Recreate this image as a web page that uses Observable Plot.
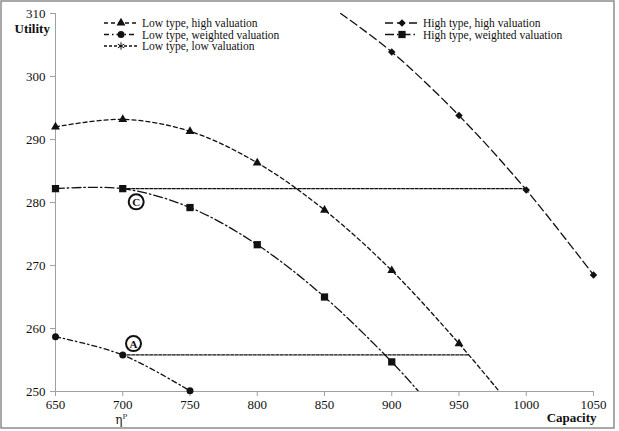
<!DOCTYPE html>
<html>
<head>
<meta charset="utf-8">
<script src="https://cdn.jsdelivr.net/npm/d3@7"></script>
<script src="https://cdn.jsdelivr.net/npm/@observablehq/plot@0.6"></script>
<style>
  html, body { margin: 0; padding: 0; background: #fff; }
  #chart { position: relative; width: 619px; height: 431px; }
  #chart svg { display: block; }
</style>
</head>
<body>
<div id="chart"></div>
<script>
// Marker positions (capacity → utility)
const lowHighCap = [650, 700, 750, 800, 850, 900, 950];
const lowHighUtil = [292.0, 293.2, 291.3, 286.3, 278.8, 269.2, 257.6];

const lowWeightedCap = [650, 700, 750];
const lowWeightedUtil = [258.7, 255.8, 250.1];

const highHighCap = [900, 950, 1000, 1050];
const highHighUtil = [303.9, 293.8, 282.0, 268.5];

const highWeightedCap = [650, 700, 750, 800, 850, 900];
const highWeightedUtil = [282.2, 282.2, 279.2, 273.3, 265.0, 254.7];

// Where each fitted curve meets the plot frame beyond its last marker
const lowHighEnd = {cap: 980, util: 250};
const highHighStart = {cap: 862, util: 310};
const highWeightedEnd = {cap: 920, util: 250};

// Horizontal reference segments from points C and A
const refCCap = [700, 1000];
const refCUtil = [282.2, 282.2];
const refACap = [700, 957];
const refAUtil = [255.8, 255.8];

// Circled point labels
const pointLabels = ["A", "C"];
const pointLabelCap = [708, 710];
const pointLabelUtil = [257.6, 280.1];

const xTicks = [650, 700, 750, 800, 850, 900, 950, 1000, 1050];
const yTicks = [250, 260, 270, 280, 290, 300, 310];

const pts = (xs, ys) => xs.map((x, i) => ({x, y: ys[i]}));

const lowHigh = pts(lowHighCap, lowHighUtil);
const lowWeighted = pts(lowWeightedCap, lowWeightedUtil);
const highHigh = pts(highHighCap, highHighUtil);
const highWeighted = pts(highWeightedCap, highWeightedUtil);

const lowHighCurve = [...lowHigh, {x: lowHighEnd.cap, y: lowHighEnd.util}];
const highHighCurve = [{x: highHighStart.cap, y: highHighStart.util}, ...highHigh];
const highWeightedCurve = [...highWeighted, {x: highWeightedEnd.cap, y: highWeightedEnd.util}];

const FONT = "Liberation Serif, Times New Roman, serif";
const AXIS = "#a0a0a0";
const INK = "#111";

const styles = {
  lowHigh: {dash: "4,3", symbol: "triangle", r: 3.3},
  lowWeighted: {dash: "5,3,1.5,3", symbol: "circle", r: 3.5},
  lowLow: {dash: "3,2", symbol: "asterisk", r: 3.5},
  highHigh: {dash: "8,4", symbol: "diamond2", r: 3.4},
  highWeighted: {dash: "9,3,1.5,3", symbol: "square", r: 4.1}
};

const lineOpts = (s) => ({x: "x", y: "y", stroke: INK, strokeWidth: 1.3,
  strokeDasharray: s.dash, curve: "catmull-rom", clip: true});
const dotOpts = (s) => ({x: "x", y: "y", symbol: () => s.symbol, r: s.r,
  fill: INK, stroke: s.symbol === "asterisk" ? INK : "none"});

const plot = Plot.plot({
  width: 619,
  height: 431,
  marginLeft: 55,
  marginRight: 26,
  marginTop: 13,
  marginBottom: 40,
  style: {fontFamily: FONT, fontSize: "13px", color: INK, background: "#fff"},
  x: {domain: [650, 1050]},
  y: {domain: [250, 310]},
  symbol: {type: "identity"},
  marks: [
    // axis lines
    Plot.ruleX([650], {stroke: AXIS, strokeWidth: 1}),
    Plot.ruleY([250], {stroke: AXIS, strokeWidth: 1}),
    Plot.axisX({ticks: xTicks, tickSize: 5, tickPadding: 3, stroke: AXIS,
      tickFormat: d3.format("d"), label: null, fontSize: 13, fill: INK}),
    Plot.axisY({ticks: yTicks, tickSize: 5, tickPadding: 5, stroke: AXIS,
      tickFormat: d3.format("d"), label: null, fontSize: 13, fill: INK}),

    // reference segments
    Plot.line(pts(refCCap, refCUtil), {x: "x", y: "y", stroke: INK, strokeWidth: 1.3, strokeDasharray: "3,1.5"}),
    Plot.line(pts(refACap, refAUtil), {x: "x", y: "y", stroke: INK, strokeWidth: 1.3, strokeDasharray: "3,1.5"}),

    // curves
    Plot.line(lowHighCurve, lineOpts(styles.lowHigh)),
    Plot.line(lowWeighted, lineOpts(styles.lowWeighted)),
    Plot.line(highHighCurve, lineOpts(styles.highHigh)),
    Plot.line(highWeightedCurve, lineOpts(styles.highWeighted)),

    // markers
    Plot.dot(lowHigh, dotOpts(styles.lowHigh)),
    Plot.dot(lowWeighted, dotOpts(styles.lowWeighted)),
    Plot.dot(highHigh, dotOpts(styles.highHigh)),
    Plot.dot(highWeighted, dotOpts(styles.highWeighted)),

    // circled point labels
    Plot.dot(pointLabels, {x: (d, i) => pointLabelCap[i], y: (d, i) => pointLabelUtil[i],
      r: 7.5, fill: "#fff", stroke: INK, strokeWidth: 2}),
    Plot.text(pointLabels, {x: (d, i) => pointLabelCap[i], y: (d, i) => pointLabelUtil[i],
      text: (d) => d, fontWeight: "bold", fontSize: 11, fill: INK, dy: 0.5}),

    // axis titles
    Plot.text(["Utility"], {frameAnchor: "top-left", dx: -41, dy: 10, fontWeight: "bold",
      fontSize: 13, textAnchor: "start", fill: INK}),
    Plot.text(["Capacity"], {frameAnchor: "bottom-right", dx: 3, dy: 30, fontWeight: "bold",
      fontSize: 13, textAnchor: "end", fill: INK})
  ]
});

const svg = d3.select(plot);
const xs = plot.scale("x");

// η^P label under the 700 tick
const eta = svg.append("text")
  .attr("x", xs.apply(700) - 1)
  .attr("y", 424)
  .attr("text-anchor", "middle")
  .attr("font-family", "DejaVu Serif, Liberation Serif, serif")
  .attr("font-size", 12)
  .attr("fill", "#111111")
  .attr("stroke", "none");
eta.append("tspan").attr("fill", "#111111").text("η");
eta.append("tspan").attr("fill", "#111111").attr("font-size", 7).attr("dy", -5).text("P");

// Legend
const legendCols = [
  {x: 104, entries: [
    ["Low type, high valuation", styles.lowHigh],
    ["Low type, weighted valuation", styles.lowWeighted],
    ["Low type, low valuation", styles.lowLow]
  ]},
  {x: 385, entries: [
    ["High type, high valuation", styles.highHigh],
    ["High type, weighted valuation", styles.highWeighted]
  ]}
];
const symbolMap = {
  triangle: d3.symbolTriangle, circle: d3.symbolCircle, asterisk: d3.symbolAsterisk,
  diamond2: d3.symbolDiamond2, square: d3.symbolSquare
};
const legend = svg.append("g");
legendCols.forEach((col) => {
  col.entries.forEach(([label, s], i) => {
    const y = 23 + i * 11.5;
    const g = legend.append("g");
    g.append("line")
      .attr("x1", col.x).attr("x2", col.x + 33).attr("y1", y).attr("y2", y)
      .attr("stroke", INK).attr("stroke-width", 1.3).attr("stroke-dasharray", s.dash);
    g.append("path")
      .attr("d", d3.symbol(symbolMap[s.symbol], Math.PI * s.r * s.r)())
      .attr("transform", `translate(${col.x + 17},${y})`)
      .attr("fill", INK)
      .attr("stroke", s.symbol === "asterisk" ? INK : "none");
    g.append("text")
      .attr("x", col.x + 38).attr("y", y).attr("dy", "0.35em")
      .attr("text-anchor", "start")
      .attr("font-family", FONT).attr("font-size", 11.5).attr("fill", INK)
      .text(label);
  });
});

// Outer chart border
svg.append("rect")
  .attr("x", 1).attr("y", 1).attr("width", 613).attr("height", 427)
  .attr("fill", "none").attr("stroke", "#8c8c8c").attr("stroke-width", 1.5);

document.getElementById("chart").appendChild(plot);
</script>
</body>
</html>
